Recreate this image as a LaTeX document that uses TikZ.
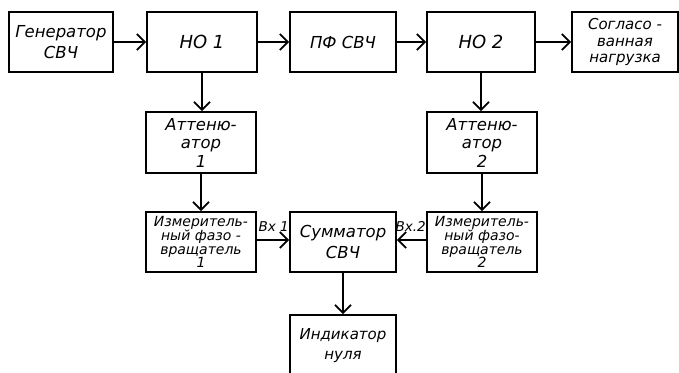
\documentclass[tikz,border=0pt]{standalone}
\usepackage{fontspec}
\setmainfont{DejaVu Sans}
\usetikzlibrary{arrows.meta}
\tikzset{blok/.style={draw, line width=1.8pt, minimum width=108pt, minimum height=60pt, inner sep=1pt, align=center, font=\itshape\fontsize{16.5}{21}\selectfont},
    melko/.style={font=\itshape\fontsize{14}{13.5}\selectfont},
    srednie/.style={font=\itshape\fontsize{16.5}{18.5}\selectfont},
    vxod/.style={font=\itshape\fontsize{13.5}{13.5}\selectfont, inner sep=1pt},
    strel/.style={-{Straight Barb[length=8pt,width=16pt]}, line width=1.8pt}}

\begin{document}
\begin{tikzpicture}[x=1pt, y=-1pt]
    \useasboundingbox (0,0) rectangle (679,372);

    \node[blok, minimum width=104pt] (gen) at (61,42) {Генератор\\СВЧ};
    \node[blok, minimum width=110pt, font=\itshape\fontsize{18}{18}\selectfont] (no1) at (202,42) {НО 1};
    \node[blok, minimum width=106pt] (pf) at (343,42) {ПФ СВЧ};
    \node[blok, minimum width=108pt, font=\itshape\fontsize{18}{18}\selectfont] (no2) at (481,42) {НО 2};
    \node[blok, minimum width=106pt, font=\itshape\fontsize{15}{16.5}\selectfont] (nagr) at (625,42) {Согласо -\\ванная\\нагрузка};

    \node[blok, minimum width=110pt, minimum height=61pt, srednie] (att1) at (201,142.5) {Аттеню-\\атор\\1};
    \node[blok, minimum width=110pt, minimum height=61pt, srednie] (att2) at (482,142.5) {Аттеню-\\атор\\2};

    \node[blok, minimum width=110pt, melko] (fv1) at (201,242) {Измеритель-\\ный фазо -\\вращатель\\1};
    \node[blok, minimum width=106pt] (sum) at (343,242) {Сумматор\\СВЧ};
    \node[blok, minimum width=110pt, melko] (fv2) at (482,242) {Измеритель-\\ный фазо-\\вращатель\\2};

    \node[blok, minimum width=106pt, minimum height=62pt, font=\itshape\fontsize{15}{20}\selectfont] (ind) at (343,346) {Индикатор\\нуля};

    \draw[strel] (gen) -- (no1);
    \draw[strel] (no1) -- (pf);
    \draw[strel] (pf) -- (no2);
    \draw[strel] (no2) -- (nagr);
    \draw[strel] (no1.south) -- (att1.north -| no1.south);
    \draw[strel] (no2.south) -- (att2.north -| no2.south);
    \draw[strel] (att1) -- (fv1);
    \draw[strel] (att2) -- (fv2);
    \draw[strel] (fv1.east |- 0,240) -- (sum.west |- 0,240) node[vxod, pos=0.52, above=7pt] (vx1) {Вх 1};
    \draw[strel] (fv2.west |- 0,240) -- (sum.east |- 0,240) node[vxod, pos=0.53, above=7pt] (vx2) {Вх.2};
    \draw[strel] (sum) -- (ind);
\end{tikzpicture}
\end{document}
